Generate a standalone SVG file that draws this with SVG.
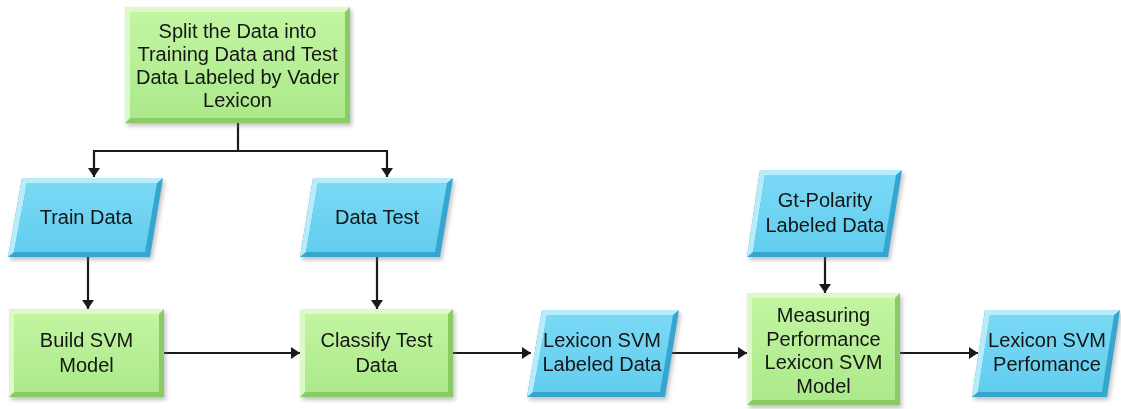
<svg xmlns="http://www.w3.org/2000/svg" width="1121" height="409" viewBox="0 0 1121 409">
<style>
.t{font-family:"Liberation Sans",Arial,sans-serif;font-size:20px;fill:#151515;text-anchor:middle}
.gb{fill:#8acb66}.gl{fill:#dcfac8}.gm{fill:url(#gg)}
.bb{fill:#36a6cf}.bl{fill:#b8ecfa}.bm{fill:url(#bg)}
.c{fill:none;stroke:#1a1a1a;stroke-width:2.2}
</style>
<defs>
<linearGradient id="gg" x1="0" y1="0" x2="0" y2="1"><stop offset="0" stop-color="#c2f5a2"/><stop offset="1" stop-color="#ace98a"/></linearGradient>
<linearGradient id="bg" x1="0" y1="0" x2="0" y2="1"><stop offset="0" stop-color="#7ad9f5"/><stop offset="1" stop-color="#62cdee"/></linearGradient>
<filter id="sh" x="-10%" y="-10%" width="130%" height="130%"><feDropShadow dx="2" dy="3" stdDeviation="2" flood-color="#777" flood-opacity="0.45"/></filter>
<marker id="ah" markerUnits="userSpaceOnUse" markerWidth="12" markerHeight="12" refX="9" refY="6" orient="auto"><path d="M0,0 L9,6 L0,12 z" fill="#1a1a1a"/></marker>
</defs>
<rect width="1121" height="409" fill="#ffffff"/>
<g id="connectors">
<path class="c" d="M238,123 V151 M93,151 H388"/>
<path class="c" d="M94,151 V177" marker-end="url(#ah)"/>
<path class="c" d="M387,151 V177" marker-end="url(#ah)"/>
<path class="c" d="M88,257 V309" marker-end="url(#ah)"/>
<path class="c" d="M377,257 V309" marker-end="url(#ah)"/>
<path class="c" d="M164,353 H300" marker-end="url(#ah)"/>
<path class="c" d="M453,353 H531" marker-end="url(#ah)"/>
<path class="c" d="M672,353 H747" marker-end="url(#ah)"/>
<path class="c" d="M825,257 V293" marker-end="url(#ah)"/>
<path class="c" d="M900,353 H978" marker-end="url(#ah)"/>
</g>
<g id="split" filter="url(#sh)">
<rect class="gb" x="125" y="7" width="225" height="116"/>
<polygon class="gl" points="125,7 350,7 345,12 130,12 130,118 125,123"/>
<rect class="gm" x="130" y="12" width="215" height="106"/>
<text class="t" x="237.5" y="37.5">Split the Data into</text>
<text class="t" x="237.5" y="60.5">Training Data and Test</text>
<text class="t" x="237.5" y="83.5">Data Labeled by Vader</text>
<text class="t" x="237.5" y="106.5">Lexicon</text>
</g>
<g id="train" filter="url(#sh)">
<polygon class="bb" points="22,178 163,178 150,257 8,257"/>
<polygon class="bl" points="22,178 163,178 157,183 27,183 14,252 8,257"/>
<polygon class="bm" points="27,183 157,183 145,252 14,252"/>
<text class="t" x="86" y="224">Train Data</text>
</g>
<g id="datatest" filter="url(#sh)">
<polygon class="bb" points="313,178 453,178 440,257 300,257"/>
<polygon class="bl" points="313,178 453,178 447,183 318,183 306,252 300,257"/>
<polygon class="bm" points="318,183 447,183 435,252 306,252"/>
<text class="t" x="377" y="224">Data Test</text>
</g>
<g id="build" filter="url(#sh)">
<rect class="gb" x="9" y="309" width="155" height="88"/>
<polygon class="gl" points="9,309 164,309 159,314 14,314 14,392 9,397"/>
<rect class="gm" x="14" y="314" width="145" height="78"/>
<text class="t" x="86.5" y="347">Build SVM</text>
<text class="t" x="86.5" y="372">Model</text>
</g>
<g id="classify" filter="url(#sh)">
<rect class="gb" x="300" y="309" width="153" height="88"/>
<polygon class="gl" points="300,309 453,309 448,314 305,314 305,392 300,397"/>
<rect class="gm" x="305" y="314" width="143" height="78"/>
<text class="t" x="376.5" y="347">Classify Test</text>
<text class="t" x="376.5" y="372">Data</text>
</g>
<g id="lexlabeled" filter="url(#sh)">
<polygon class="bb" points="542,310 679,310 665,397 527,397"/>
<polygon class="bl" points="542,310 679,310 673,315 547,315 533,392 527,397"/>
<polygon class="bm" points="547,315 673,315 660,392 533,392"/>
<text class="t" x="602" y="347">Lexicon SVM</text>
<text class="t" x="602" y="371">Labeled Data</text>
</g>
<g id="gtpolarity" filter="url(#sh)">
<polygon class="bb" points="760,170 902,170 888,257 747,257"/>
<polygon class="bl" points="760,170 902,170 896,175 765,175 753,252 747,257"/>
<polygon class="bm" points="765,175 896,175 883,252 753,252"/>
<text class="t" x="825" y="207">Gt-Polarity</text>
<text class="t" x="825" y="232">Labeled Data</text>
</g>
<g id="measuring" filter="url(#sh)">
<rect class="gb" x="747" y="293" width="153" height="112"/>
<polygon class="gl" points="747,293 900,293 895,298 752,298 752,400 747,405"/>
<rect class="gm" x="752" y="298" width="143" height="102"/>
<text class="t" x="823.5" y="322">Measuring</text>
<text class="t" x="823.5" y="346">Performance</text>
<text class="t" x="823.5" y="369">Lexicon SVM</text>
<text class="t" x="823.5" y="393">Model</text>
</g>
<g id="lexperf" filter="url(#sh)">
<polygon class="bb" points="985,310 1120,310 1107,397 972,397"/>
<polygon class="bl" points="985,310 1120,310 1114,315 990,315 978,392 972,397"/>
<polygon class="bm" points="990,315 1114,315 1102,392 978,392"/>
<text class="t" x="1047" y="347">Lexicon SVM</text>
<text class="t" x="1047" y="371">Perfomance</text>
</g>
</svg>
